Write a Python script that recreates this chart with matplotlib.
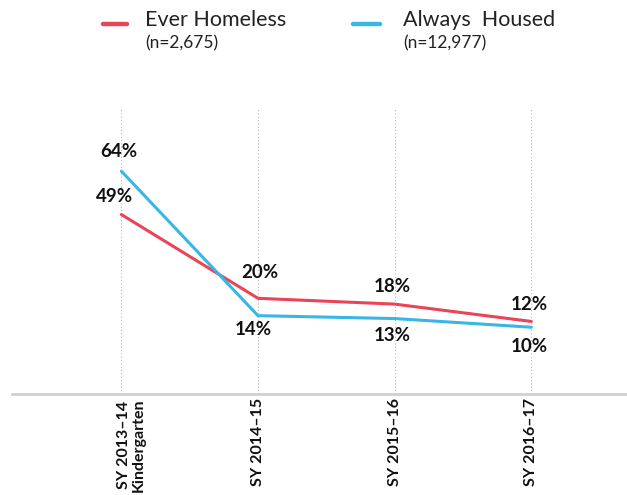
import matplotlib
matplotlib.use("Agg")
import matplotlib.pyplot as plt
import matplotlib.transforms as mtransforms

plt.rcParams['font.family'] = ['Lato', 'DejaVu Sans']

years = ["SY 2013\u201314\nKindergarten", "SY 2014\u201315", "SY 2015\u201316", "SY 2016\u201317"]
ever_homeless = [49, 20, 18, 12]
always_housed = [64, 14, 13, 10]
series_names = ["Ever Homeless", "Always  Housed"]
series_counts = ["(n=2,675)", "(n=12,977)"]

red = "#EA4458"
blue = "#38B6E6"

fig = plt.figure(figsize=(6.27, 4.95), dpi=100)
ax = fig.add_axes([12 / 627, 101 / 495, 615 / 627, 285 / 495])

x = list(range(len(years)))
ax.plot(x, ever_homeless, color=red, lw=2.2, solid_capstyle="round", zorder=3)
ax.plot(x, always_housed, color=blue, lw=2.2, solid_capstyle="round", zorder=3)

ax.set_xlim(-0.80, 3.70)
ax.set_ylim(-13.1, 85.5)

for xi in x:
    ax.axvline(xi, color="#b5b5b5", lw=0.8, ls=(0, (1, 2)), zorder=1)

# value labels: (dx, dy) offsets in pixels
red_offsets = [(-7, 18), (2, 26), (-2, 18), (-2, 17)]
blue_offsets = [(-3, 20), (-5, -14), (-2, -17), (-2, -19)]
for xi, v, (dx, dy) in zip(x, ever_homeless, red_offsets):
    ax.annotate(f"{v}%", (xi, v), xytext=(dx, dy), textcoords="offset pixels",
                ha="center", va="center", fontsize=13.5, fontweight="bold", color="#111111")
for xi, v, (dx, dy) in zip(x, always_housed, blue_offsets):
    ax.annotate(f"{v}%", (xi, v), xytext=(dx, dy), textcoords="offset pixels",
                ha="center", va="center", fontsize=13.5, fontweight="bold", color="#111111")

for s in ["top", "right", "left"]:
    ax.spines[s].set_visible(False)
ax.spines["bottom"].set_color("#d0d0d0")
ax.spines["bottom"].set_linewidth(2)
ax.set_yticks([])
ax.set_xticks(x)
ax.set_xticklabels(years, rotation=90, fontsize=11.5, fontweight="bold", color="#111111",
                   va="top", ha="center", linespacing=1.0)
ax.tick_params(axis="x", length=0, pad=3)
first = ax.get_xticklabels()[0]
first.set_transform(first.get_transform() + mtransforms.ScaledTranslation(10 / 100, 0, fig.dpi_scale_trans))

# legend
for (x0, x1, tx), c, name, cnt in zip([(103, 127, 145), (353, 380, 403)], [red, blue],
                                       series_names, series_counts):
    fig.add_artist(plt.Line2D([x0 / 627, x1 / 627], [1 - 24 / 495, 1 - 24 / 495],
                              color=c, lw=3.2, solid_capstyle="round"))
    fig.text(tx / 627, 1 - 20 / 495, name, fontsize=15.5, va="center", ha="left", color="#222222")
    fig.text(tx / 627, 1 - 43 / 495, cnt, fontsize=12.5, va="center", ha="left", color="#222222")

fig.savefig("out.png", dpi=100)
